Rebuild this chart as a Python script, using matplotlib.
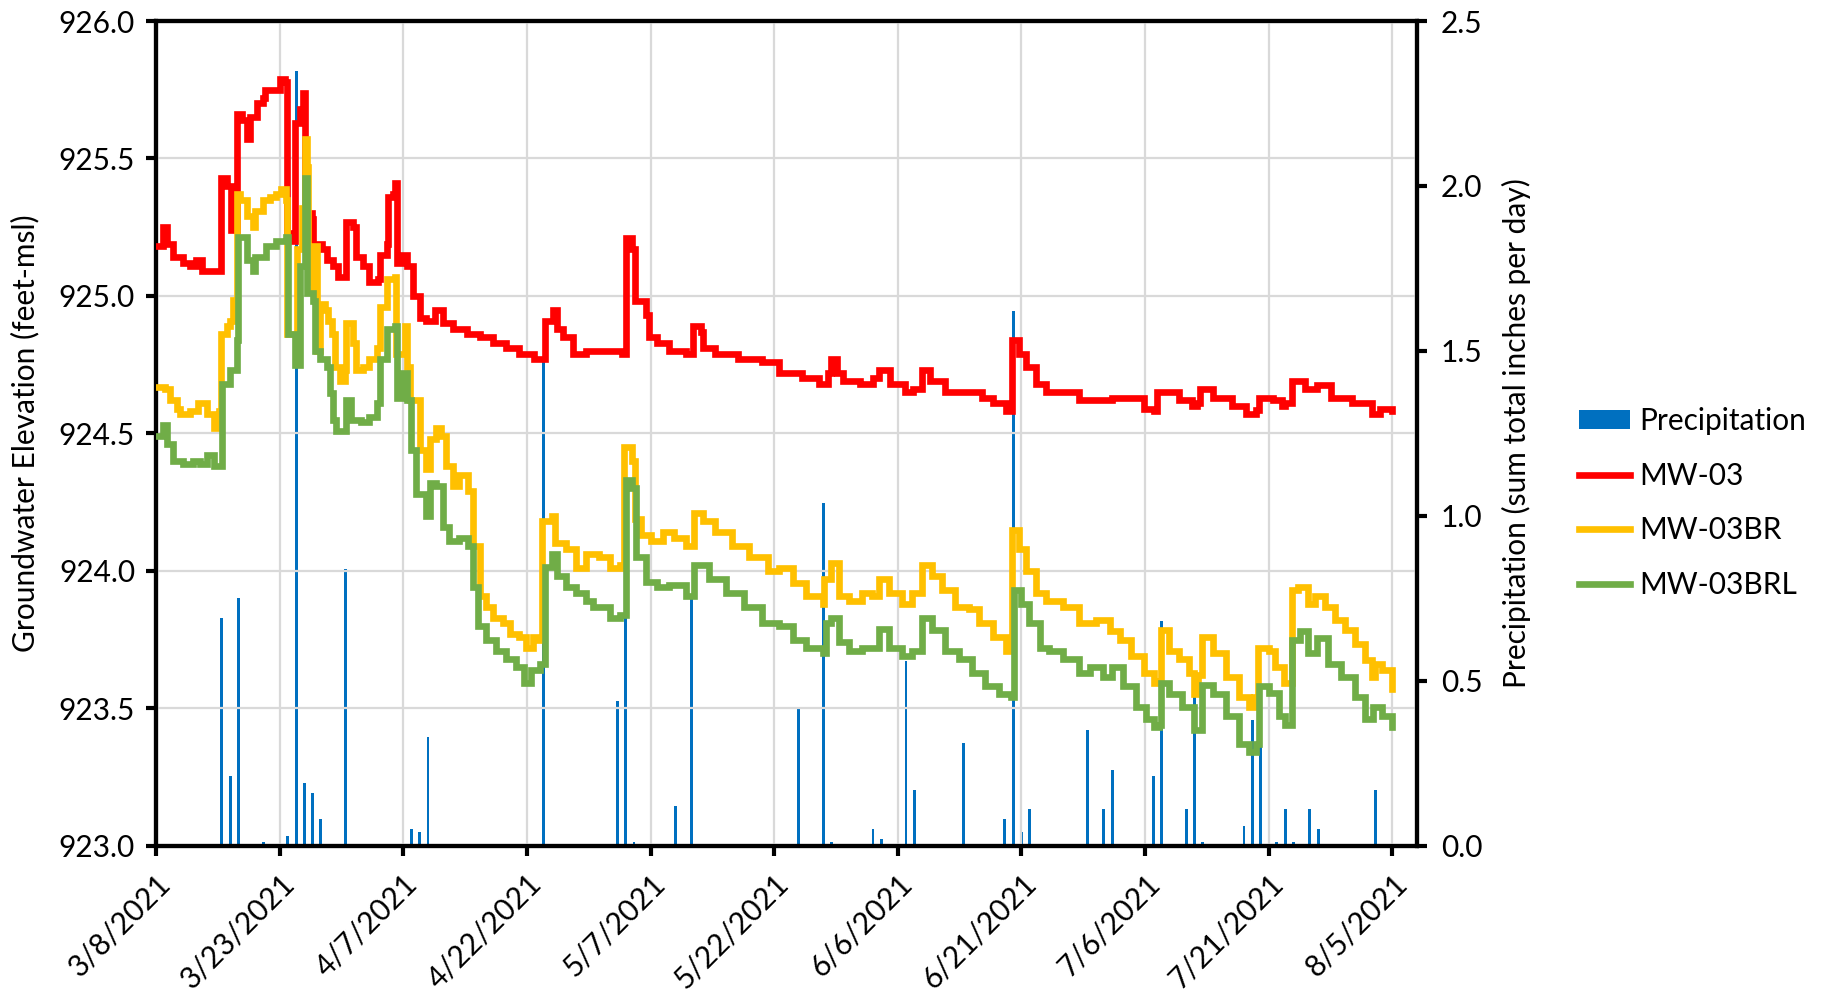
import matplotlib
matplotlib.use("Agg")
import matplotlib.pyplot as plt
from matplotlib.ticker import FormatStrFormatter, MultipleLocator
from matplotlib.patches import Patch
from matplotlib.lines import Line2D
import numpy as np
import pandas as pd

plt.rcParams['font.family'] = ['Lato', 'DejaVu Sans']

# ---- data (days counted from 3/8/2021) ----
start = pd.Timestamp('2021-03-08')

precip_day = [8, 9, 10, 13, 16, 17, 18, 19, 20, 23, 31, 32, 33, 47, 56, 57, 58, 63, 65,
              78, 81, 82, 87, 88, 91, 92, 98, 103, 104, 105, 106, 113, 115, 116, 121, 122,
              125, 126, 127, 132, 133, 134, 136, 137, 138, 140, 141, 148]
precip_in = [0.69, 0.21, 0.75, 0.01, 0.03, 2.35, 0.19, 0.16, 0.08, 0.84, 0.05, 0.04, 0.33,
             1.47, 0.44, 0.73, 0.01, 0.12, 0.75, 0.42, 1.04, 0.01, 0.05, 0.02, 0.56, 0.17,
             0.31, 0.08, 1.62, 0.04, 0.11, 0.35, 0.11, 0.23, 0.21, 0.68, 0.11, 0.45, 0.01,
             0.06, 0.38, 0.39, 0.01, 0.11, 0.01, 0.11, 0.05, 0.17]

mw03_day = [0.1, 0.9, 1.3, 2.1, 3.3, 4.1, 4.9, 5.6, 7.8, 7.9, 8.6, 9.1, 9.6, 9.8, 10.4, 11.0,
            11.4, 12.2, 13.0, 13.2, 14.2, 15.0, 15.6, 15.9, 16.5, 16.9, 17.5, 17.9, 18.1,
            18.9, 19.1, 20.1, 20.7, 21.5, 22.1, 22.9, 23.1, 23.9, 24.3, 25.1, 25.9, 26.9,
            27.2, 28.0, 28.2, 28.8, 29.0, 29.2, 30.0, 30.4, 31.2, 32.0, 32.8, 33.8, 34.8,
            36.0, 37.7, 39.3, 40.9, 42.5, 44.1, 45.9, 46.9, 47.2, 48.2, 48.6, 49.4, 50.6,
            52.2, 54.4, 56.5, 57.0, 57.7, 58.1, 59.4, 59.8, 60.8, 62.2, 64.3, 64.9, 65.1,
            66.1, 66.4, 67.8, 70.6, 73.5, 75.6, 78.4, 80.5, 81.5, 81.9, 82.6, 83.3, 85.4,
            87.0, 87.7, 89.0, 90.9, 91.8, 92.9, 93.9, 95.7, 98.2, 100.2, 101.5, 103.1,
            103.7, 103.9, 104.7, 105.5, 106.8, 108.0, 110.0, 112.0, 114.4, 116.0, 117.7,
            119.9, 121.1, 121.5, 121.9, 124.1, 125.7, 126.3, 126.7, 128.2, 130.6, 132.2,
            133.4, 133.8, 135.5, 136.6, 137.0, 137.8, 139.4, 140.8, 142.6, 145.1, 147.5,
            148.5, 149.9]
mw03_elev = [925.18, 925.25, 925.19, 925.14, 925.12, 925.11, 925.13, 925.09, 925.09, 925.43,
             925.40, 925.24, 925.24, 925.66, 925.64, 925.57, 925.65, 925.70, 925.72, 925.75,
             925.75, 925.79, 925.78, 925.23, 925.20, 925.63, 925.68, 925.74, 925.30, 925.28,
             925.19, 925.17, 925.13, 925.11, 925.07, 925.07, 925.27, 925.25, 925.14, 925.11,
             925.05, 925.06, 925.15, 925.19, 925.36, 925.37, 925.41, 925.12, 925.15, 925.11,
             925.00, 924.92, 924.91, 924.95, 924.90, 924.88, 924.86, 924.85, 924.83, 924.81,
             924.79, 924.77, 924.77, 924.91, 924.95, 924.88, 924.85, 924.79, 924.80, 924.80,
             924.79, 925.21, 925.17, 924.98, 924.93, 924.85, 924.83, 924.80, 924.79, 924.79,
             924.89, 924.87, 924.81, 924.79, 924.77, 924.76, 924.72, 924.70, 924.68, 924.72,
             924.77, 924.72, 924.69, 924.68, 924.70, 924.73, 924.68, 924.65, 924.66, 924.73,
             924.69, 924.65, 924.65, 924.63, 924.61, 924.58, 924.58, 924.84, 924.79, 924.74,
             924.68, 924.65, 924.65, 924.62, 924.62, 924.63, 924.63, 924.59, 924.58, 924.65,
             924.65, 924.62, 924.60, 924.61, 924.66, 924.63, 924.60, 924.57, 924.585, 924.63,
             924.62, 924.60, 924.61, 924.69, 924.66, 924.675, 924.63, 924.61, 924.57, 924.59,
             924.58]

mw03br_day = [0.1, 1.1, 1.7, 2.5, 2.9, 4.1, 5.1, 6.2, 7.0, 7.6, 7.8, 7.9, 8.6, 9.0, 9.4, 9.8,
              10.2, 11.0, 11.8, 12.0, 13.0, 13.8, 14.6, 15.2, 15.8, 15.9, 16.5, 17.1, 17.7,
              18.1, 18.3, 18.5, 19.0, 19.2, 19.5, 19.9, 20.5, 20.9, 21.3, 21.7, 22.3, 22.9,
              23.1, 23.9, 24.3, 25.1, 25.9, 26.8, 27.2, 28.0, 29.0, 29.1, 29.8, 30.2, 30.4,
              30.8, 32.0, 32.8, 33.2, 34.0, 34.6, 35.2, 36.0, 36.8, 37.9, 38.5, 39.3, 40.1,
              40.9, 42.1, 42.9, 44.1, 44.9, 45.7, 46.4, 46.8, 48.0, 48.4, 49.8, 51.0, 52.2,
              53.7, 55.1, 56.3, 56.8, 57.7, 58.1, 58.9, 60.1, 61.5, 62.9, 64.3, 65.0, 65.3,
              66.4, 67.8, 69.9, 72.0, 74.2, 75.6, 77.3, 78.9, 80.9, 81.1, 81.9, 82.9, 84.1,
              85.7, 86.9, 87.7, 88.9, 90.5, 91.7, 92.9, 94.1, 95.4, 97.0, 98.6, 99.8, 101.5,
              103.1, 103.7, 103.9, 104.7, 105.5, 106.8, 108.0, 110.0, 112.0, 114.1, 115.7,
              116.9, 118.3, 119.9, 121.1, 121.7, 121.9, 122.9, 124.1, 125.3, 125.9, 126.4,
              126.9, 128.2, 129.8, 131.4, 132.6, 133.2, 133.7, 135.0, 135.8, 136.8, 137.8,
              138.6, 139.8, 140.6, 141.8, 143.0, 144.3, 145.5, 146.7, 147.5, 147.9, 148.7,
              149.9]
mw03br_elev = [924.67, 924.66, 924.62, 924.59, 924.57, 924.58, 924.61, 924.57, 924.52, 924.58,
               924.55, 924.86, 924.89, 924.91, 924.985, 925.37, 925.35, 925.29, 925.25, 925.31,
               925.35, 925.36, 925.37, 925.39, 925.35, 924.86, 924.86, 925.17, 925.32, 925.57,
               925.47, 925.05, 925.02, 925.18, 924.80, 924.97, 924.95, 924.91, 924.86, 924.74,
               924.69, 924.73, 924.90, 924.83, 924.73, 924.74, 924.77, 924.81, 924.96, 925.06,
               925.07, 924.79, 924.79, 924.89, 924.74, 924.62, 924.44, 924.37, 924.48, 924.52,
               924.49, 924.38, 924.31, 924.35, 924.29, 924.09, 923.91, 923.87, 923.83, 923.81,
               923.77, 923.76, 923.72, 923.76, 923.75, 924.18, 924.20, 924.10, 924.08, 924.01,
               924.06, 924.05, 924.01, 924.02, 924.45, 924.40, 924.19, 924.13, 924.11, 924.14,
               924.12, 924.09, 924.09, 924.21, 924.18, 924.14, 924.09, 924.05, 924.00, 924.01,
               923.955, 923.91, 923.88, 923.97, 924.03, 923.91, 923.89, 923.92, 923.91, 923.97,
               923.92, 923.88, 923.92, 924.02, 923.98, 923.93, 923.87, 923.86, 923.81, 923.76,
               923.71, 923.71, 924.15, 924.08, 924.00, 923.92, 923.89, 923.87, 923.81, 923.82,
               923.78, 923.75, 923.69, 923.63, 923.59, 923.60, 923.785, 923.71, 923.68, 923.63,
               923.55, 923.62, 923.76, 923.70, 923.615, 923.54, 923.505, 923.54, 923.72, 923.71,
               923.65, 923.59, 923.93, 923.94, 923.88, 923.91, 923.87, 923.82, 923.785, 923.735,
               923.675, 923.615, 923.66, 923.64, 923.57]

mw03brl_day = [0.1, 0.9, 1.3, 2.1, 3.3, 4.5, 5.3, 6.2, 7.0, 7.8, 8.0, 9.0, 9.8, 10.0, 11.0,
               11.8, 12.0, 13.4, 14.6, 15.8, 16.0, 16.9, 17.5, 18.1, 18.3, 19.1, 19.3, 19.9,
               20.7, 21.1, 21.5, 21.9, 22.9, 23.1, 23.7, 24.9, 25.9, 26.8, 27.2, 28.0, 29.0,
               29.2, 30.0, 30.4, 31.0, 31.6, 32.8, 33.2, 34.0, 34.8, 35.6, 36.8, 37.9, 38.5,
               39.1, 40.1, 41.3, 42.5, 43.7, 44.7, 45.5, 46.6, 47.2, 48.0, 48.6, 49.8, 51.0,
               52.2, 53.0, 55.1, 56.3, 57.0, 57.7, 58.2, 59.4, 60.8, 62.2, 64.3, 65.0, 65.3,
               67.1, 69.2, 71.3, 73.5, 75.6, 77.3, 78.9, 80.9, 81.3, 81.9, 82.9, 84.1, 85.7,
               86.9, 87.7, 88.9, 90.5, 91.7, 92.9, 94.1, 95.7, 97.4, 99.0, 100.6, 102.3, 103.7,
               104.1, 104.9, 105.9, 107.2, 108.4, 110.0, 112.0, 113.3, 114.9, 116.0, 117.3,
               118.9, 120.1, 121.1, 121.7, 121.9, 122.9, 124.5, 125.9, 126.9, 128.2, 129.8,
               131.4, 132.6, 133.4, 133.8, 135.0, 136.2, 137.0, 137.8, 138.8, 139.8, 140.8,
               142.2, 143.8, 145.5, 146.7, 147.7, 148.7, 149.9]
mw03brl_elev = [924.49, 924.53, 924.46, 924.40, 924.39, 924.40, 924.39, 924.42, 924.38, 924.38,
                924.68, 924.73, 924.84, 925.215, 925.13, 925.09, 925.14, 925.18, 925.20, 925.215,
                924.86, 924.75, 925.11, 925.43, 925.01, 924.98, 924.80, 924.77, 924.74, 924.645,
                924.55, 924.51, 924.51, 924.62, 924.55, 924.54, 924.56, 924.61, 924.77, 924.88,
                924.89, 924.63, 924.72, 924.62, 924.44, 924.28, 924.20, 924.32, 924.31, 924.16,
                924.11, 924.12, 924.09, 923.94, 923.80, 923.75, 923.71, 923.68, 923.65, 923.59,
                923.64, 923.66, 924.015, 924.06, 923.98, 923.94, 923.92, 923.89, 923.87, 923.83,
                923.84, 924.33, 924.30, 924.05, 923.96, 923.94, 923.95, 923.91, 923.91, 924.02,
                923.97, 923.92, 923.87, 923.81, 923.80, 923.75, 923.72, 923.70, 923.81, 923.83,
                923.74, 923.71, 923.72, 923.72, 923.79, 923.72, 923.69, 923.71, 923.83, 923.785,
                923.71, 923.68, 923.63, 923.58, 923.55, 923.54, 923.93, 923.88, 923.81, 923.72,
                923.71, 923.68, 923.63, 923.65, 923.615, 923.65, 923.58, 923.505, 923.46, 923.43,
                923.44, 923.59, 923.55, 923.505, 923.42, 923.585, 923.55, 923.47, 923.37, 923.34,
                923.37, 923.58, 923.555, 923.47, 923.44, 923.75, 923.78, 923.70, 923.755, 923.66,
                923.615, 923.54, 923.46, 923.505, 923.47, 923.43]

tick_dates = pd.date_range(start, periods=11, freq='15D')
tick_labels = [f"{d.month}/{d.day}/{d.year}" for d in tick_dates]


def to_dates(days):
    return start + pd.to_timedelta(np.array(days), unit='D')


# ---- plot ----
fig = plt.figure(figsize=(18.24, 9.92), dpi=100)
ax = fig.add_axes([0.0855, 0.1475, 0.6914, 0.8313])
ax2 = ax.twinx()

ax2.bar(to_dates(precip_day), precip_in, width=0.35, color='#0070C0', zorder=2)

# lines sit above the bars
ax.set_zorder(ax2.get_zorder() + 1)
ax.patch.set_visible(False)

lw = 4.8
style = dict(lw=lw, drawstyle='steps-post', solid_joinstyle='miter', zorder=3)
ax.plot(to_dates(mw03_day), mw03_elev, color='#FF0000', **style)
ax.plot(to_dates(mw03br_day), mw03br_elev, color='#FFC000', **style)
ax.plot(to_dates(mw03brl_day), mw03brl_elev, color='#70AD47', **style)

ax.set_xlim(start, start + pd.Timedelta(days=153))
ax.set_ylim(923.0, 926.0)
ax2.set_ylim(0, 2.5)
ax.yaxis.set_major_locator(MultipleLocator(0.5))
ax2.yaxis.set_major_locator(MultipleLocator(0.5))
ax.yaxis.set_major_formatter(FormatStrFormatter('%.1f'))
ax2.yaxis.set_major_formatter(FormatStrFormatter('%.1f'))

ax.set_xticks(tick_dates)
ax.set_xticklabels(tick_labels, rotation=45, ha='right', rotation_mode='anchor')

ax.grid(True, color='#D9D9D9', lw=1.6)
ax.set_axisbelow(True)

fs = 21.5
for a in (ax, ax2):
    for s in a.spines.values():
        s.set_linewidth(3)
        s.set_color('black')
    a.tick_params(width=3, length=7, labelsize=fs, colors='black', direction='out')
ax.tick_params(axis='y', pad=8)
ax.tick_params(axis='x', pad=10)
ax2.tick_params(axis='y', pad=10)

ax.set_ylabel('Groundwater Elevation (feet-msl)', fontsize=fs, labelpad=14)
ax2.set_ylabel('Precipitation (sum total inches per day)', fontsize=fs, labelpad=14)

handles = [Patch(facecolor='#0070C0'),
           Line2D([], [], color='#FF0000', lw=lw),
           Line2D([], [], color='#FFC000', lw=lw),
           Line2D([], [], color='#70AD47', lw=lw)]
fig.legend(handles, ['Precipitation', 'MW-03', 'MW-03BR', 'MW-03BRL'],
           loc='center left', bbox_to_anchor=(0.851, 0.493), bbox_transform=fig.transFigure,
           frameon=False, fontsize=fs, handlelength=1.7, handleheight=0.6,
           handletextpad=0.3, labelspacing=0.9)

fig.savefig('out.png', dpi=100)
